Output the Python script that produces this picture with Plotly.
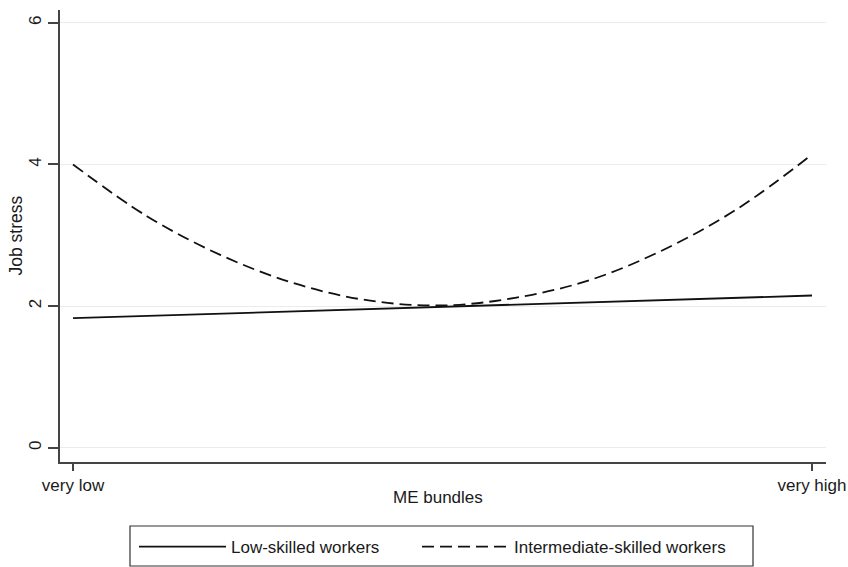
import plotly.graph_objects as go

# Data
x_ticks = [0, 1]
x_tick_labels = ["very low", "very high"]
y_ticks = [0, 2, 4, 6]

low_x = [0, 1]
low_y = [1.83, 2.15]

inter_x = [0.0, 0.1, 0.2, 0.3, 0.4, 0.5, 0.6, 0.7, 0.8, 0.9, 1.0]
inter_y = [4.00, 3.27, 2.72, 2.32, 2.08, 2.01, 2.12, 2.37, 2.80, 3.38, 4.14]

FONT = "Liberation Sans, Arial, sans-serif"
AX = "#444444"
GRID = "#e6eef0"

W, H = 848, 567
L, R, T, B = 60, 22, 10, 105
pw = W - L - R
ph = H - T - B
plot_bottom = T + ph


def px(p):
    return (p - L) / pw


def py(p):
    return -(p - plot_bottom) / ph


fig = go.Figure()
fig.add_trace(go.Scatter(x=low_x, y=low_y, mode="lines", name="Low-skilled workers",
                         line=dict(color="#111111", width=1.8), legend="legend"))
fig.add_trace(go.Scatter(x=inter_x, y=inter_y, mode="lines", name="Intermediate-skilled workers",
                         line=dict(color="#111111", width=1.8, dash="12px,6px", shape="spline"),
                         legend="legend2"))

leg_common = dict(orientation="h", yanchor="middle", y=py(547), xanchor="left",
                  bgcolor="rgba(0,0,0,0)", borderwidth=0, itemwidth=87,
                  font=dict(size=17, family=FONT, color="#1a1a1a"))

fig.update_layout(
    template="none",
    width=W, height=H,
    margin=dict(l=L, r=R, t=T, b=B, autoexpand=False),
    paper_bgcolor="white", plot_bgcolor="white",
    font=dict(family=FONT, size=17, color="#1a1a1a"),
    showlegend=True,
    legend=dict(x=px(134), **leg_common),
    legend2=dict(x=px(417), **leg_common),
    xaxis=dict(range=[-13 / 739, 1 + 14 / 739], tickvals=x_ticks, ticktext=x_tick_labels,
               automargin=False,
               showgrid=False, zeroline=False, showline=True, linecolor=AX, linewidth=1.5,
               ticks="outside", ticklen=7, tickcolor=AX, tickwidth=1.5, mirror=False),
    yaxis=dict(range=[-0.2, 6.18], tickvals=y_ticks, tickangle=-90, automargin=False,
               showgrid=True, gridcolor=GRID, gridwidth=1.2, zeroline=False,
               showline=True, linecolor=AX, linewidth=1.5,
               ticks="outside", ticklen=10, tickcolor=AX, tickwidth=1.5),
    shapes=[
        dict(type="rect", xref="paper", yref="paper", x0=px(130), x1=px(753),
             y0=py(566), y1=py(526), line=dict(color="#333333", width=1.2),
             fillcolor="rgba(0,0,0,0)", layer="above"),
    ],
    annotations=[
        dict(text="ME bundles", xref="paper", yref="paper", x=px(438),
             y=py(497), xanchor="center", yanchor="middle", showarrow=False,
             font=dict(size=17)),
        dict(text="Job stress", xref="paper", yref="paper", x=px(15.5),
             y=0.5, xanchor="center", yanchor="middle", textangle=-90, showarrow=False,
             font=dict(size=17.5)),
    ],
)

fig.write_html(
    "out.html",
    config={"displayModeBar": False},
    post_script="document.body.style.margin='0px';"
                "document.documentElement.style.overflow='hidden';"
                "document.body.style.overflow='hidden';",
)
